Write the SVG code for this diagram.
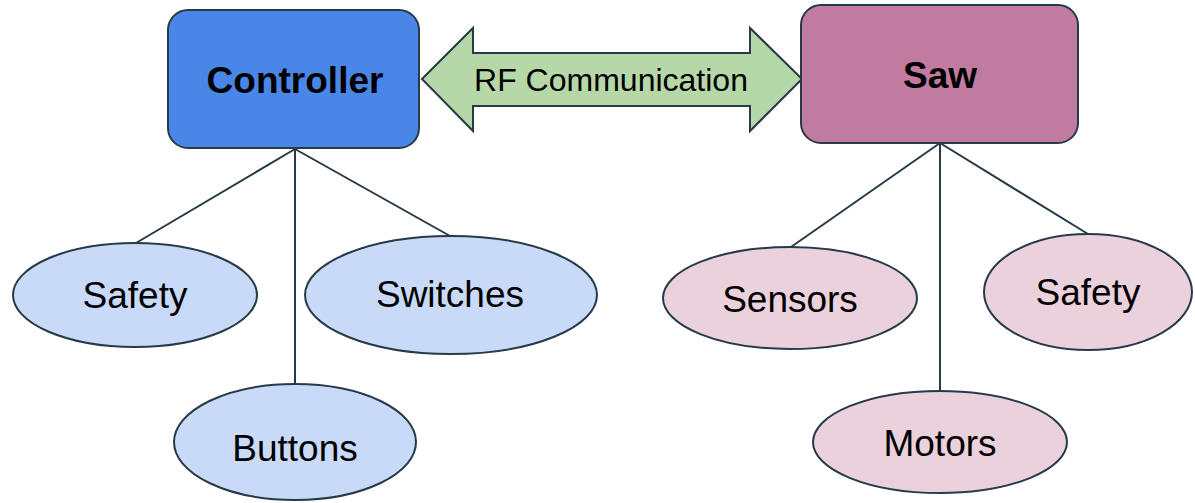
<svg xmlns="http://www.w3.org/2000/svg" width="1195" height="503" viewBox="0 0 1195 503">
  <style>
    .edge { stroke: #263a47; stroke-width: 2; fill: none; }
    .box { stroke: #263a47; stroke-width: 2; }
    .leaf { stroke: #263a47; stroke-width: 2; }
    .ctrl-leaf { fill: #c9daf8; }
    .saw-leaf { fill: #ead1dc; }
    .title { font-family: "Liberation Sans", Arial, sans-serif; font-weight: bold; font-size: 37px; fill: #000; text-anchor: middle; }
    .label { font-family: "Liberation Sans", Arial, sans-serif; font-size: 37px; fill: #000; text-anchor: middle; }
    .link { font-family: "Liberation Sans", Arial, sans-serif; font-size: 32px; fill: #000; text-anchor: middle; }
  </style>
  <rect width="1195" height="503" fill="#ffffff"/>

  <!-- connectors from each unit to its parts -->
  <g id="connectors">
    <line class="edge" x1="295" y1="149" x2="136" y2="243"/>
    <line class="edge" x1="295" y1="149" x2="295" y2="384"/>
    <line class="edge" x1="295" y1="149" x2="450" y2="236"/>
    <line class="edge" x1="940" y1="143" x2="791" y2="247"/>
    <line class="edge" x1="940" y1="143" x2="940" y2="392"/>
    <line class="edge" x1="940" y1="143" x2="1088" y2="234"/>
  </g>

  <!-- double-headed RF link -->
  <g id="rf-link">
    <polygon class="box" fill="#b6d7a8" points="422,79 473,28 473,53 750,53 750,28 802,79 750,131 750,106 473,106 473,131"/>
    <text class="link" x="611" y="91">RF Communication</text>
  </g>

  <g id="controller">
    <rect class="box" x="168" y="10" width="251" height="138" rx="20" fill="#4a86e8"/>
    <text class="title" x="295" y="93">Controller</text>
  </g>

  <g id="saw">
    <rect class="box" x="801" y="5" width="277" height="138" rx="20" fill="#c27ba0"/>
    <text class="title" x="940" y="88">Saw</text>
  </g>

  <g id="controller-safety">
    <ellipse class="leaf ctrl-leaf" cx="135" cy="295" rx="122" ry="52"/>
    <text class="label" x="135" y="308">Safety</text>
  </g>

  <g id="controller-switches">
    <ellipse class="leaf ctrl-leaf" cx="451" cy="295" rx="146" ry="59"/>
    <text class="label" x="450" y="307">Switches</text>
  </g>

  <g id="controller-buttons">
    <ellipse class="leaf ctrl-leaf" cx="295" cy="442" rx="121" ry="58"/>
    <text class="label" x="295" y="461">Buttons</text>
  </g>

  <g id="saw-sensors">
    <ellipse class="leaf saw-leaf" cx="790" cy="298" rx="127" ry="51"/>
    <text class="label" x="790" y="312">Sensors</text>
  </g>

  <g id="saw-safety">
    <ellipse class="leaf saw-leaf" cx="1088" cy="292" rx="104" ry="58"/>
    <text class="label" x="1088" y="305">Safety</text>
  </g>

  <g id="saw-motors">
    <ellipse class="leaf saw-leaf" cx="940" cy="442" rx="127" ry="51"/>
    <text class="label" x="940" y="456">Motors</text>
  </g>
</svg>
